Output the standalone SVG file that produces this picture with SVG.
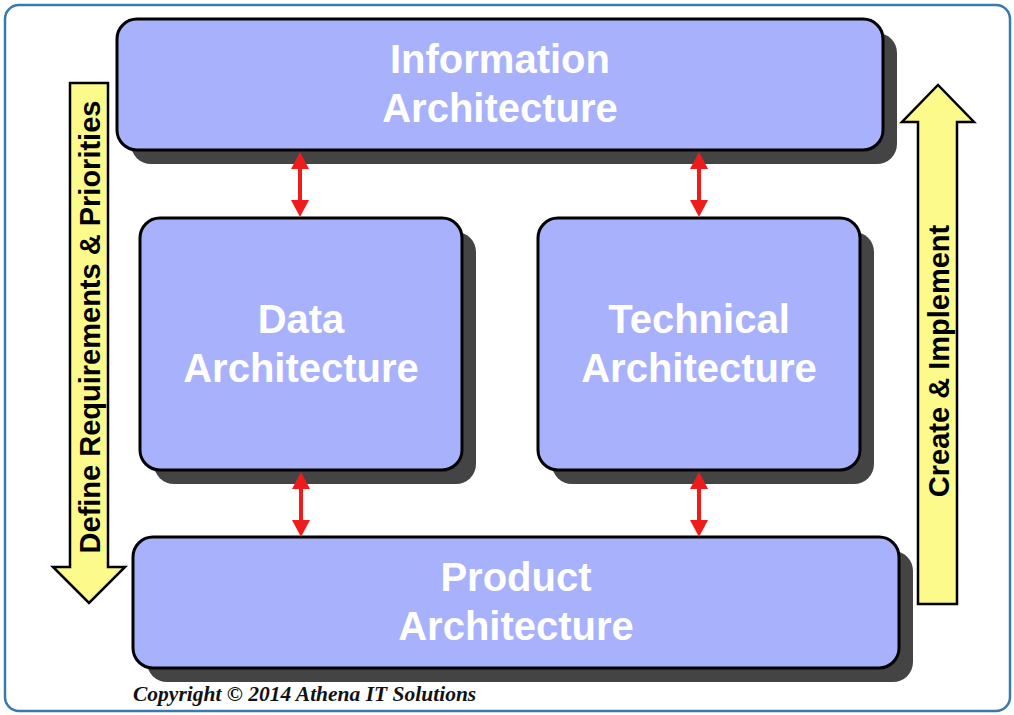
<svg xmlns="http://www.w3.org/2000/svg" width="1014" height="715" viewBox="0 0 1014 715">
<defs>
<style>
.box{fill:#a8b1fb;stroke:#000;stroke-width:3}
.shadow{fill:#444}
.lbl{font-family:"Liberation Sans",Arial,sans-serif;font-weight:bold;font-size:40px;fill:#fff;text-anchor:middle}
.side{font-family:"Liberation Sans",Arial,sans-serif;font-weight:bold;font-size:29px;fill:#000;text-anchor:middle}
.yarrow{fill:#fdfa8c;stroke:#000;stroke-width:2.5;stroke-linejoin:miter}
.conn{stroke:#f01c1c;stroke-width:4;fill:none}
.head{fill:#f01c1c}
</style>
</defs>
<rect x="0" y="0" width="1014" height="715" fill="#fff"/>
<rect id="frame" x="5" y="5" width="1005" height="706" rx="14" fill="#fff" stroke="#3a78ad" stroke-width="2.5"/>

<g id="define-arrow">
<polygon class="yarrow" points="70,83 108,83 108,567 125,567 89,603 53,567 70,567"/>
<text class="side" transform="translate(99.5,327) rotate(-90)">Define Requirements &amp; Priorities</text>
</g>
<g id="create-arrow">
<polygon class="yarrow" points="918,604 957,604 957,122 974,122 938,85 902,122 918,122"/>
<text class="side" transform="translate(948.5,361) rotate(-90)">Create &amp; Implement</text>
</g>

<g id="information">
<rect class="shadow" x="131" y="33" width="766" height="131" rx="20"/>
<rect class="box" x="117" y="19" width="766" height="131" rx="20"/>
<text class="lbl" x="500" y="73">Information</text>
<text class="lbl" x="500" y="122">Architecture</text>
</g>
<g id="data">
<rect class="shadow" x="154" y="232" width="322" height="252" rx="20"/>
<rect class="box" x="140" y="218" width="322" height="252" rx="20"/>
<text class="lbl" x="301" y="333">Data</text>
<text class="lbl" x="301" y="382">Architecture</text>
</g>
<g id="technical">
<rect class="shadow" x="552" y="232" width="322" height="252" rx="20"/>
<rect class="box" x="538" y="218" width="322" height="252" rx="20"/>
<text class="lbl" x="699" y="333">Technical</text>
<text class="lbl" x="699" y="382">Architecture</text>
</g>
<g id="product">
<rect class="shadow" x="147" y="551" width="766" height="131" rx="20"/>
<rect class="box" x="133" y="537" width="766" height="131" rx="20"/>
<text class="lbl" x="516" y="591">Product</text>
<text class="lbl" x="516" y="640">Architecture</text>
</g>

<g id="connectors">
<line class="conn" x1="300" y1="165" x2="300" y2="202"/>
<polygon class="head" points="300,152 309,169 291,169"/>
<polygon class="head" points="300,217 309,200 291,200"/>
<line class="conn" x1="699" y1="165" x2="699" y2="202"/>
<polygon class="head" points="699,152 708,169 690,169"/>
<polygon class="head" points="699,217 708,200 690,200"/>
<line class="conn" x1="301" y1="485" x2="301" y2="522"/>
<polygon class="head" points="301,472 310,489 292,489"/>
<polygon class="head" points="301,537 310,520 292,520"/>
<line class="conn" x1="699" y1="485" x2="699" y2="522"/>
<polygon class="head" points="699,472 708,489 690,489"/>
<polygon class="head" points="699,537 708,520 690,520"/>
</g>

<text id="copyright" x="133" y="701" font-family="'Liberation Serif','Times New Roman',serif" font-weight="bold" font-style="italic" font-size="21.5" fill="#111">Copyright © 2014 Athena IT Solutions</text>
</svg>
